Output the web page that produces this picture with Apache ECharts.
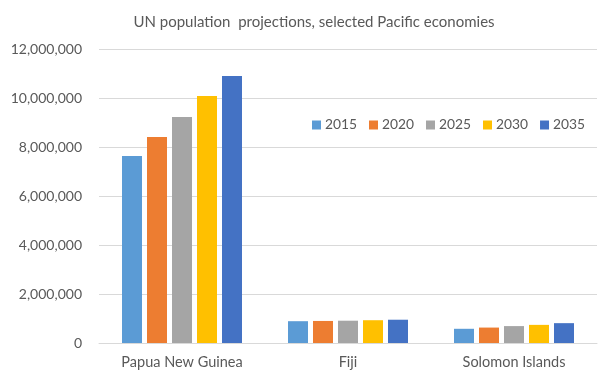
<!DOCTYPE html>
<html>
<head>
<meta charset="utf-8">
<script src="https://cdn.jsdelivr.net/npm/echarts@6/dist/echarts.min.js"></script>
<style>html,body{margin:0;padding:0;background:#fff;}#c{width:613px;height:379px;}</style>
</head>
<body>
<div id="c"></div>
<script>
const categories = ['Papua New Guinea', 'Fiji', 'Solomon Islands'];
const years = ['2015', '2020', '2025', '2030', '2035'];
const v2015 = [7630000, 890000, 580000];
const v2020 = [8410000, 900000, 630000];
const v2025 = [9220000, 910000, 690000];
const v2030 = [10080000, 930000, 740000];
const v2035 = [10900000, 950000, 810000];
const yTicks = [0, 2000000, 4000000, 6000000, 8000000, 10000000, 12000000];
const colors = ['#5B9BD5', '#ED7D31', '#A5A5A5', '#FFC000', '#4472C4'];
const seriesValues = [v2015, v2020, v2025, v2030, v2035];

const font = 'Lato, "Open Sans", sans-serif';
const chart = echarts.init(document.getElementById('c'));
chart.setOption({
  animation: false,
  color: colors,
  title: {
    text: 'UN population  projections, selected Pacific economies',
    left: 309, top: 10, textAlign: 'center',
    textStyle: { fontFamily: font, fontSize: 15, fontWeight: 'normal', color: '#595959' }
  },
  legend: {
    data: years,
    left: 307, top: 113,
    itemWidth: 9, itemHeight: 9, itemGap: 12,
    icon: 'rect',
    textStyle: { fontFamily: font, fontSize: 13.8, color: '#595959', padding: [0, 0, 0, -1] }
  },
  grid: { left: 99, right: 16, top: 49, bottom: 36, containLabel: false },
  xAxis: {
    type: 'category', data: categories,
    axisLine: { lineStyle: { color: '#D9D9D9' } },
    axisTick: { show: false },
    axisLabel: { fontFamily: font, fontSize: 14.5, color: '#595959', margin: 12 }
  },
  yAxis: {
    type: 'value', min: yTicks[0], max: yTicks[yTicks.length - 1], interval: 2000000,
    axisLine: { show: false }, axisTick: { show: false },
    splitLine: { lineStyle: { color: '#D9D9D9' } },
    axisLabel: {
      fontFamily: font, fontSize: 14, color: '#595959', margin: 17,
      formatter: v => v.toLocaleString('en-US')
    }
  },
  series: years.map((y, i) => ({
    name: y, type: 'bar', data: seriesValues[i],
    barWidth: 20, barGap: '25%',
    itemStyle: { color: colors[i] }
  }))
});
</script>
</body>
</html>
